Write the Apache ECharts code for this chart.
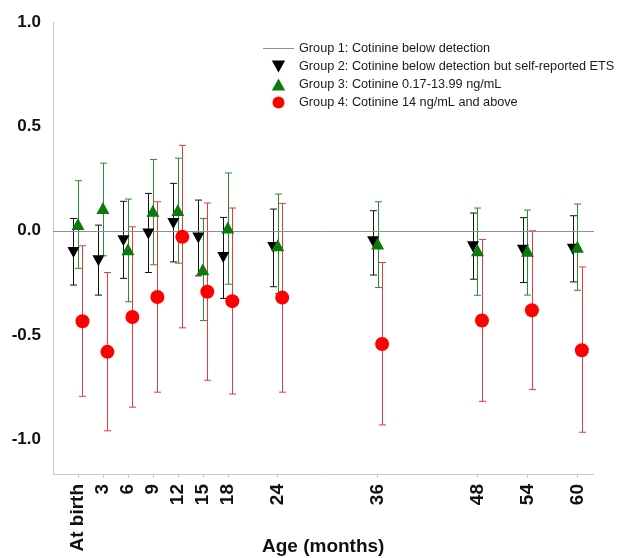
<!DOCTYPE html>
<html>
<head>
<meta charset="utf-8">
<script src="https://cdn.jsdelivr.net/npm/echarts@6/dist/echarts.min.js"></script>
<style>html,body{margin:0;padding:0;background:#fff}#c{width:633px;height:558px}</style>
</head>
<body>
<div id="c"></div>
<script>
var ages = [0, 3, 6, 9, 12, 15, 18, 24, 36, 48, 54, 60];
var ageLabels = ['At birth', '3', '6', '9', '12', '15', '18', '24', '36', '48', '54', '60'];
var yTicks = [-1.0, -0.5, 0.0, 0.5, 1.0];
var group1Level = 0;

var g2Mean = [-0.104, -0.144, -0.048, -0.016, 0.035, -0.035, -0.128, -0.080, -0.053, -0.077, -0.093, -0.088];
var g2Low  = [-0.260, -0.308, -0.228, -0.200, -0.149, -0.216, -0.324, -0.268, -0.212, -0.232, -0.248, -0.245];
var g2High = [0.059, 0.027, 0.141, 0.179, 0.227, 0.147, 0.064, 0.104, 0.096, 0.085, 0.063, 0.072];

var g3Mean = [0.032, 0.109, -0.088, 0.096, 0.100, -0.184, 0.016, -0.069, -0.061, -0.093, -0.096, -0.077];
var g3Low  = [-0.180, -0.120, -0.340, -0.163, -0.155, -0.430, -0.256, -0.300, -0.272, -0.309, -0.308, -0.285];
var g3High = [0.240, 0.324, 0.152, 0.341, 0.348, 0.059, 0.277, 0.176, 0.139, 0.109, 0.099, 0.128];

var g4Mean = [-0.433, -0.580, -0.413, -0.317, -0.029, -0.292, -0.337, -0.320, -0.542, -0.430, -0.381, -0.572];
var g4Low  = [-0.793, -0.958, -0.845, -0.773, -0.465, -0.716, -0.782, -0.773, -0.930, -0.817, -0.761, -0.965];
var g4High = [-0.072, -0.200, 0.019, 0.139, 0.409, 0.133, 0.109, 0.131, -0.152, -0.042, 0.000, -0.173];

var names = [
  'Group 1: Cotinine below detection',
  'Group 2: Cotinine below detection but self-reported ETS',
  'Group 3: Cotinine 0.17-13.99 ng/mL',
  'Group 4: Cotinine 14 ng/mL and above'
];

function pts(mean) { return ages.map(function (a, i) { return [a, mean[i]]; }); }
function bars(low, high) { return ages.map(function (a, i) { return [a, low[i], high[i]]; }); }

function errRender(dx, color) {
  return function (params, api) {
    var x = api.value(0);
    var p1 = api.coord([x, api.value(1)]);
    var p2 = api.coord([x, api.value(2)]);
    var cx = Math.round(p1[0] + dx) + 0.5;
    var hw = 3.5;
    var st = { stroke: color, lineWidth: 1, fill: null };
    return {
      type: 'group',
      children: [
        { type: 'line', shape: { x1: cx, y1: p1[1], x2: cx, y2: p2[1] }, style: st },
        { type: 'line', shape: { x1: cx - hw, y1: p1[1], x2: cx + hw, y2: p1[1] }, style: st },
        { type: 'line', shape: { x1: cx - hw, y1: p2[1], x2: cx + hw, y2: p2[1] }, style: st }
      ]
    };
  };
}

var downTri = 'path://M0,0 L10,0 L5,9 Z';
var upTri = 'path://M5,0 L10,9 L0,9 Z';
var lineIcon = 'path://M0,0 L31,0 L31,1 L0,1 Z';
var c1 = '#8f8f8f', c2 = '#000000', c3 = '#0a7a0a', c4 = '#ff0000';
var dx2 = -4.5, dx3 = 0, dx4 = 4.5;

var chart = echarts.init(document.getElementById('c'), null, { renderer: 'canvas' });
chart.setOption({
  animation: false,
  backgroundColor: '#ffffff',
  grid: { left: 53, right: 39, top: 22, bottom: 84 },
  legend: {
    orient: 'vertical',
    left: 263, top: 42,
    itemWidth: 31, itemHeight: 12, itemGap: 5,
    padding: 0,
    textStyle: { fontFamily: 'Liberation Sans, Arial, sans-serif', fontSize: 12.7, color: '#1a1a1a' },
    data: [
      { name: names[0], icon: lineIcon, itemStyle: { color: c1 } },
      { name: names[1], icon: downTri, itemStyle: { color: c2 } },
      { name: names[2], icon: upTri, itemStyle: { color: c3 } },
      { name: names[3], icon: 'circle', itemStyle: { color: c4 } }
    ],
    selectedMode: false
  },
  xAxis: {
    type: 'value', min: -3, max: 62,
    axisLine: { show: true, onZero: false, lineStyle: { color: '#c8c8c8', width: 1 } },
    axisTick: { show: true, customValues: ages, length: 4, lineStyle: { color: '#c8c8c8' } },
    splitLine: { show: false },
    axisLabel: {
      customValues: ages,
      rotate: 90, margin: 10,
      fontFamily: 'Liberation Sans, Arial, sans-serif', fontSize: 19, fontWeight: 'bold', color: '#111',
      formatter: function (v) { var i = ages.indexOf(v); return i >= 0 ? ageLabels[i] : ''; }
    }
  },
  yAxis: {
    type: 'value', min: -1.165, max: 1.0,
    axisLine: { show: true, onZero: false, lineStyle: { color: '#c8c8c8', width: 1 } },
    axisTick: { show: false },
    splitLine: { show: false },
    axisLabel: {
      customValues: yTicks, margin: 12,
      fontFamily: 'Liberation Sans, Arial, sans-serif', fontSize: 17, fontWeight: 'bold', color: '#111',
      formatter: function (v) { return v.toFixed(1); }
    }
  },
  graphic: [{
    type: 'text', left: 262, top: 537,
    style: { text: 'Age (months)', font: 'bold 19px "Liberation Sans", Arial, sans-serif', fill: '#111' }
  }],
  series: [
    {
      name: names[0], type: 'line', data: [], symbol: 'none',
      itemStyle: { color: c1 }, lineStyle: { color: c1, width: 1 },
      markLine: {
        silent: true, symbol: 'none', label: { show: false },
        lineStyle: { color: c1, width: 1, type: 'solid' },
        data: [{ yAxis: group1Level }]
      }
    },
    { name: names[1], type: 'custom', renderItem: errRender(dx2, '#111111'), itemStyle: { color: c2 }, data: bars(g2Low, g2High), z: 2 },
    { name: names[2], type: 'custom', renderItem: errRender(dx3, '#2f8a2f'), itemStyle: { color: c3 }, data: bars(g3Low, g3High), z: 3 },
    { name: names[3], type: 'custom', renderItem: errRender(dx4, '#e8393b'), itemStyle: { color: c4 }, data: bars(g4Low, g4High), z: 4 },
    { name: names[1], type: 'scatter', data: pts(g2Mean), symbol: downTri, symbolSize: [12, 11], symbolOffset: [dx2, 0], itemStyle: { color: c2, opacity: 1 }, z: 5 },
    { name: names[2], type: 'scatter', data: pts(g3Mean), symbol: upTri, symbolSize: [13, 12], symbolOffset: [dx3, 0], itemStyle: { color: c3, opacity: 1 }, z: 6 },
    { name: names[3], type: 'scatter', data: pts(g4Mean), symbol: 'circle', symbolSize: 14, symbolOffset: [dx4, 0], itemStyle: { color: c4, opacity: 1 }, z: 7 }
  ]
});
</script>
</body>
</html>
